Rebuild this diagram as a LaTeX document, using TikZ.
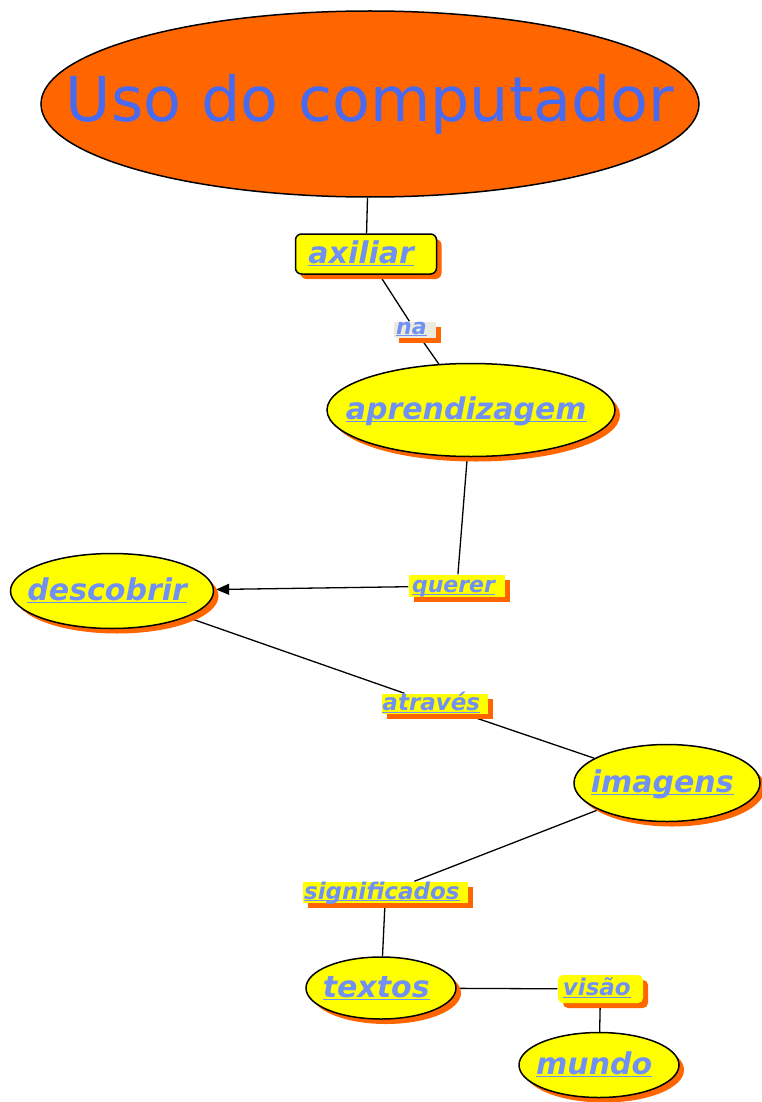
\documentclass[tikz,border=0pt]{standalone}
\usepackage{fontspec}
\setmainfont{DejaVu Sans}
\usetikzlibrary{arrows.meta, shapes.geometric, shadows, backgrounds}
\usepackage{xcolor}
\definecolor{cmaporange}{RGB}{255,102,0}
\definecolor{cmapyellow}{RGB}{255,255,0}
\definecolor{titleblue}{RGB}{72,106,240}
\definecolor{linkblue}{RGB}{112,144,245}
\definecolor{napaper}{RGB}{236,236,222}
% thin underline sitting just under the baseline, plus a trailing gap
\newlength\ulwd
\newcommand\cmapu[1]{\settowidth{\ulwd}{#1}\rlap{\rule[-0.1em]{\ulwd}{0.05em}}#1\kern0.32em}
% zero-width text so the ellipse keeps its own size
\newcommand\cmapc[1]{\makebox[0pt]{\cmapu{#1}}}

\begin{document}
\begin{tikzpicture}[x=1pt,y=-1pt,line width=1.5pt]
    \tikzstyle{orange shadow}=[drop shadow={shadow xshift=5pt,shadow yshift=-5pt,fill=cmaporange,opacity=1}]
    \tikzstyle{concept}=[ellipse, draw=black, fill=cmapyellow, inner sep=0pt, orange shadow,
        text=linkblue, font=\fontsize{30}{36}\selectfont\bfseries\itshape,
        text height=23pt, text depth=5pt]
    \tikzstyle{link}=[rectangle, fill=cmapyellow, inner xsep=0pt, inner ysep=0pt, orange shadow,
        text=linkblue, font=\fontsize{23}{27}\selectfont\bfseries\itshape,
        text height=16pt, text depth=3pt]
    \tikzstyle{connector}=[line width=1.3pt, draw=black]

    \useasboundingbox (0,0) rectangle (761,1102);

    % Draw the main concept
    \node[ellipse, draw=black, fill=cmaporange, inner sep=0pt, minimum width=658pt, minimum height=186pt,
        text=titleblue, font=\fontsize{62}{72}\selectfont] (uso) at (370,104) {\makebox[0pt]{Uso do computador}};

    % Draw the concepts
    \node[link, draw=black, rounded corners=6pt, minimum width=141pt, minimum height=40pt,
        font=\fontsize{30}{36}\selectfont\bfseries\itshape, text height=23pt, text depth=5pt] (axiliar) at (366,254) {\cmapu{axiliar}};
    \node[concept, minimum width=288pt, minimum height=93pt] (aprend) at (471,410) {\cmapc{aprendizagem}};
    \node[concept, minimum width=203pt, minimum height=75pt] (descobrir) at (112,591) {\cmapc{descobrir}};
    \node[concept, minimum width=186pt, minimum height=77pt] (imagens) at (667,783) {\cmapc{imagens}};
    \node[concept, minimum width=150pt, minimum height=62pt] (textos) at (381,988) {\cmapc{textos}};
    \node[concept, minimum width=160pt, minimum height=65pt] (mundo) at (599,1065) {\cmapc{mundo}};

    % Draw the linking words
    \node[link, fill=napaper, minimum width=42pt, minimum height=15pt, font=\fontsize{22}{26}\selectfont\bfseries\itshape,
        text height=12pt, text depth=4pt] (na) at (415,330) {\cmapu{na}};
    \node[link, minimum width=96pt, minimum height=22pt, font=\fontsize{22}{26}\selectfont\bfseries\itshape] (querer) at (457,586) {\cmapu{querer}};
    \node[link, minimum width=106pt, minimum height=20pt] (atraves) at (435,704) {\cmapu{através}};
    \node[link, minimum width=165pt, minimum height=21pt] (signif) at (385.5,892.5) {\cmapu{significados}};
    \node[link, rounded corners=5pt, minimum width=85pt, minimum height=28pt] (visao) at (600.5,989) {\cmapu{visão}};

    % Connect the concepts through their linking words
    \begin{scope}[on background layer]
    \foreach \source/\dest in {uso/axiliar, axiliar/na, na/aprend, aprend/querer,
                               descobrir/atraves, atraves/imagens, imagens/signif,
                               signif/textos, textos/visao, visao/mundo}
        \draw[connector] (\source) -- (\dest);

    \draw[connector, -{Triangle[length=13pt,width=11pt]}, shorten >=2pt] (querer) -- (descobrir);
    \end{scope}
\end{tikzpicture}
\end{document}
